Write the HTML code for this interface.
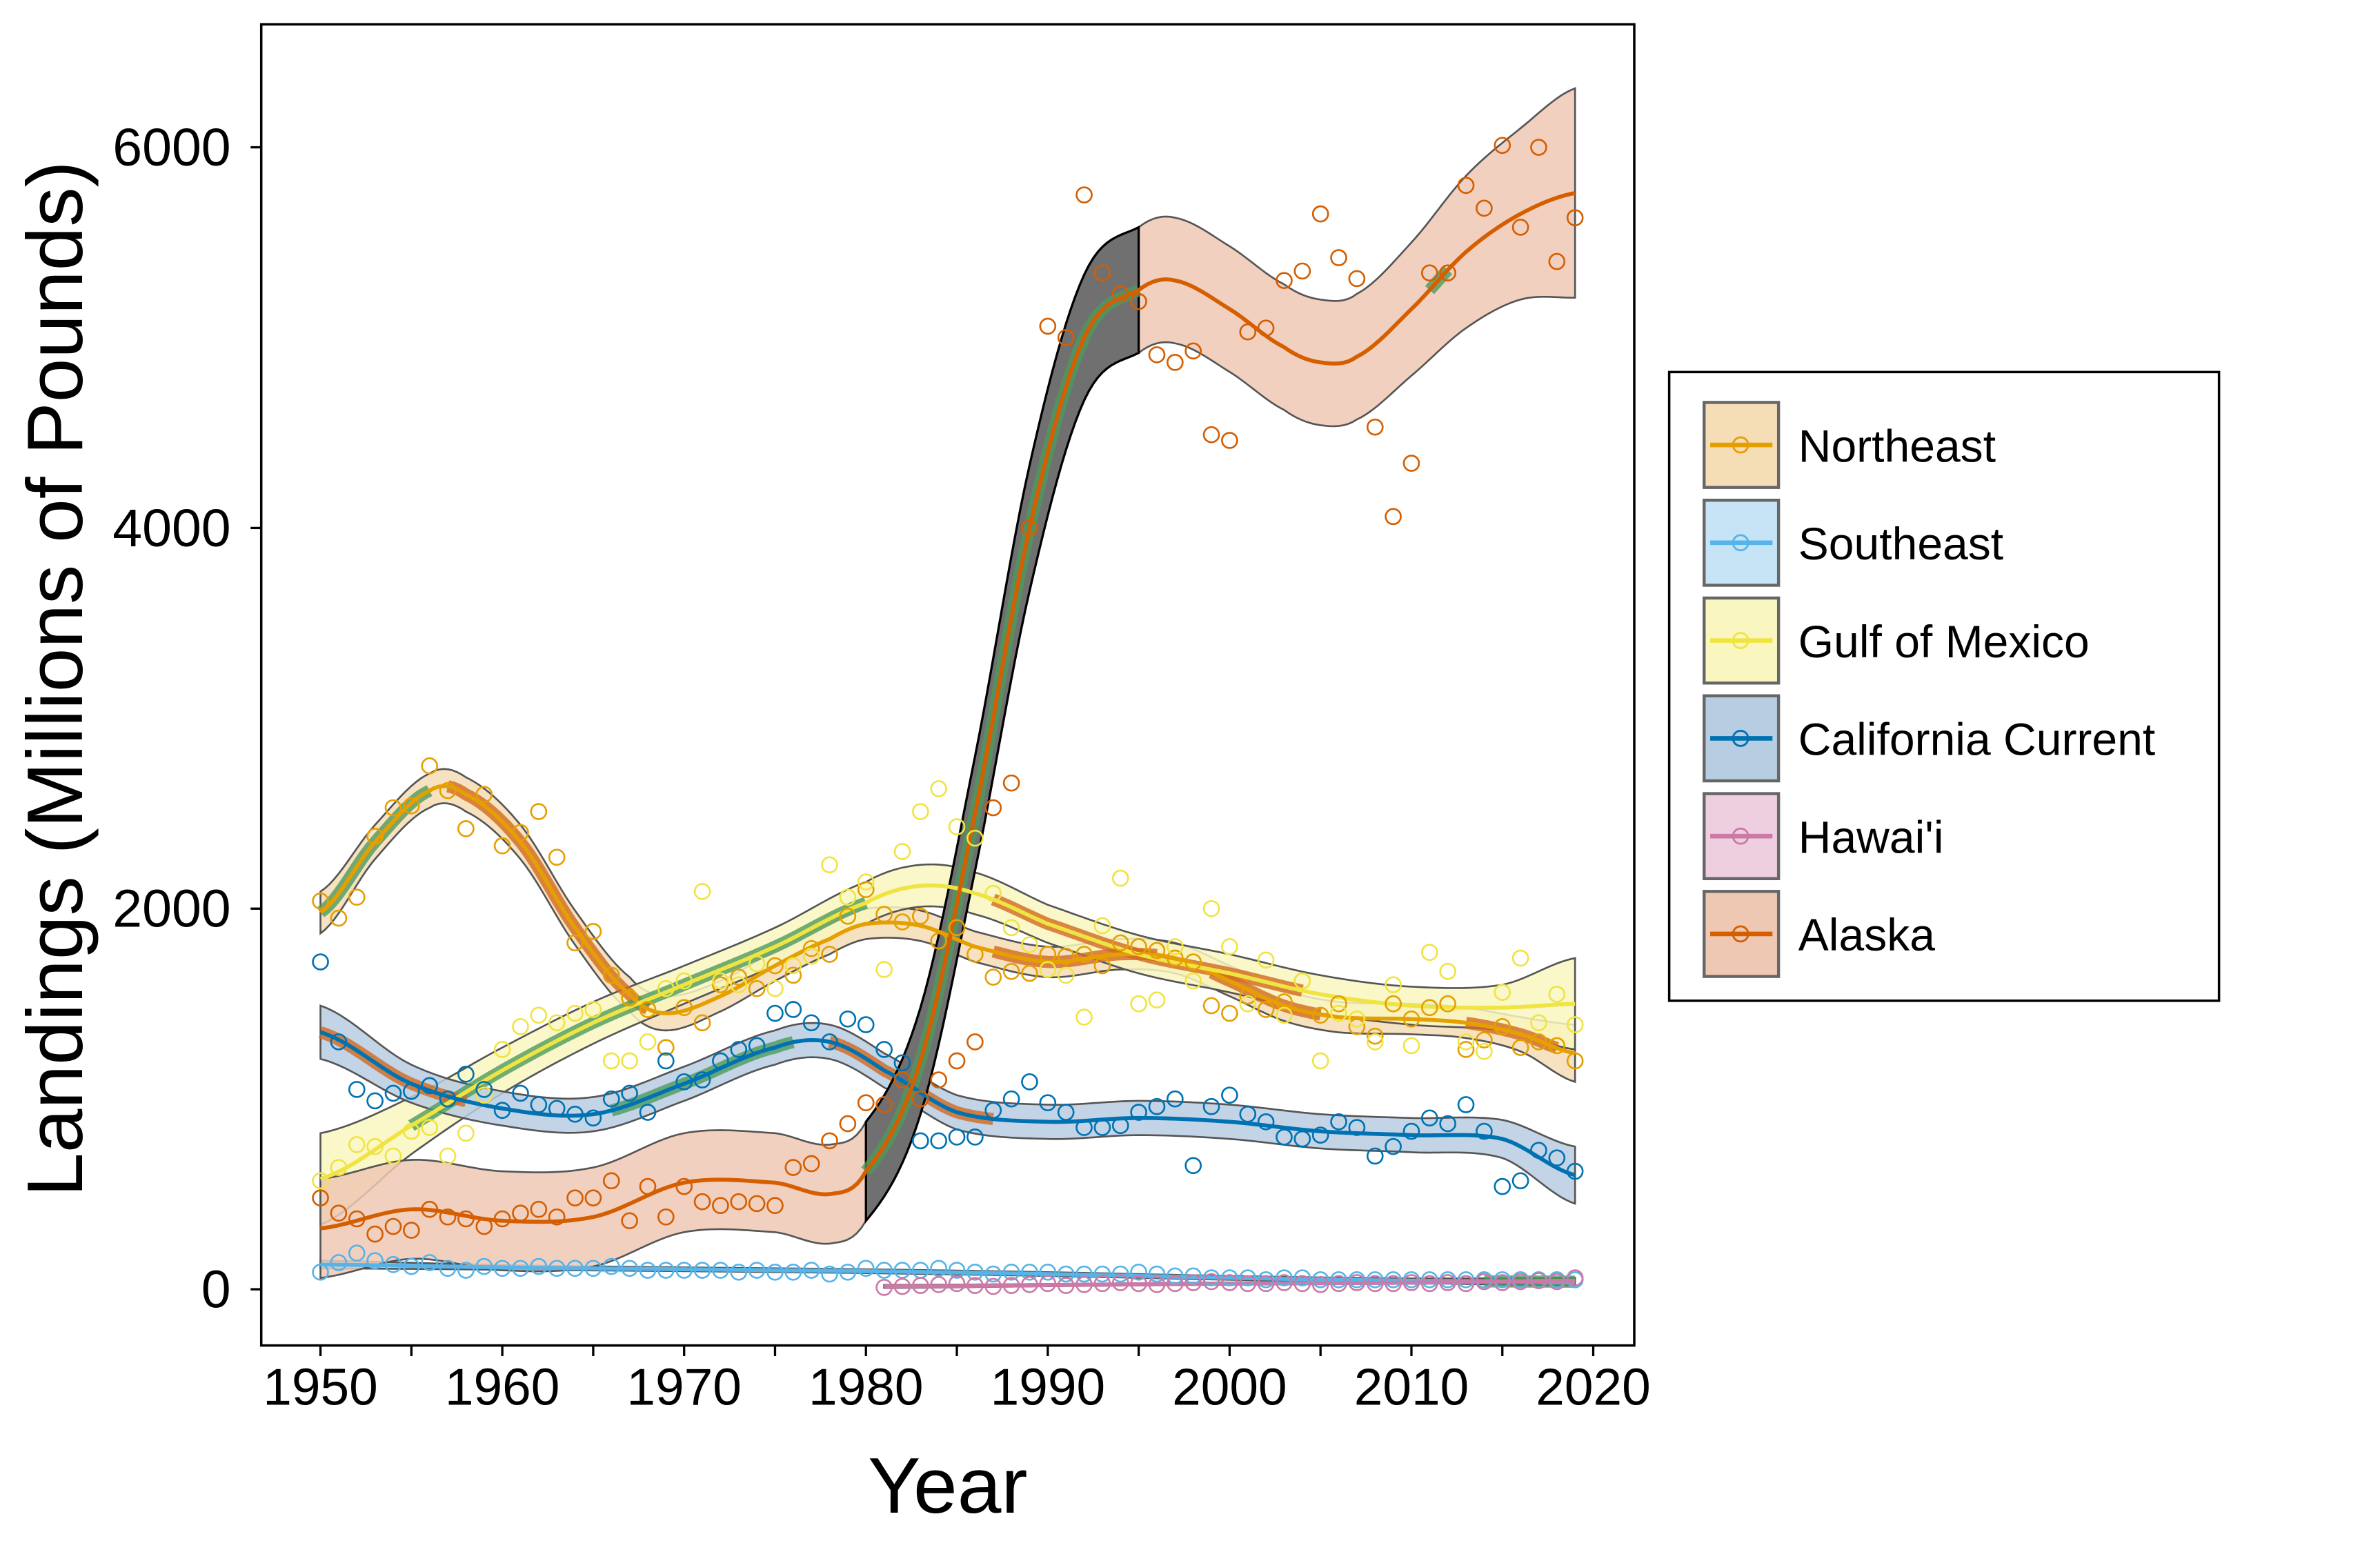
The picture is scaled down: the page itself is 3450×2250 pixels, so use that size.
<!DOCTYPE html>
<html><head><meta charset="utf-8"><style>
html,body{margin:0;padding:0;background:#fff}
svg{display:block;font-family:"Liberation Sans",Arial,sans-serif}
</style></head><body>
<svg id="chart" width="3450" height="2250" viewBox="0 0 1567 1022" preserveAspectRatio="none" xmlns="http://www.w3.org/2000/svg">
<rect width="1567" height="1022" fill="#fff"/>
<g id="bands"></g><g id="hl"></g><g id="lines"></g><g id="pts"></g>
<rect x="172" y="16" width="904" height="870" fill="none" stroke="#000" stroke-width="1.6"/>
<g id="axes"></g>
<text transform="translate(54,447) rotate(-90)" text-anchor="middle" font-size="52">Landings (Millions of Pounds)</text>
<text x="624" y="996" text-anchor="middle" font-size="52">Year</text>
<g id="legend"></g>
</svg>
<script>
const years=[];for(let y=1950;y<=2019;y++)years.push(y);
const names=["Northeast","Southeast","Gulf of Mexico","California Current","Hawai'i","Alaska"];
const colors=["#E69F00","#56B4E9","#F0E442","#0072B2","#CC79A7","#D55E00"];
const fills=["#F5DDB5","#C6E4F6","#F9F6BF","#B7CDE2","#EDCFE0","#EFC8B4"];
const neVals=[2040,1950,2060,2380,2530,2540,2750,2620,2420,2600,2330,2400,2510,2270,1820,1880,1650,1530,1470,1270,1480,1400,1600,1640,1580,1700,1650,1790,1760,1960,2100,1970,1930,1960,1830,1900,1760,1640,1670,1660,1760,1750,1760,1700,1820,1800,1780,1740,1720,1490,1450,1540,1470,1510,1620,1440,1500,1380,1330,1500,1420,1480,1500,1260,1310,1380,1270,1300,1280,1200];
const seVals=[90,140,190,150,130,120,140,110,100,120,110,110,120,110,110,110,120,110,100,100,100,100,100,90,100,90,90,100,80,90,110,100,100,100,110,100,90,80,90,90,90,80,80,80,80,90,80,70,70,60,60,60,50,60,60,50,50,50,50,50,50,50,50,50,50,50,50,50,50,50];
const gmVals=[570,640,760,750,700,830,850,700,820,1020,1260,1380,1440,1400,1450,1470,1200,1200,1300,1580,1620,2090,1620,1600,1710,1580,1700,1750,2230,2060,2140,1680,2300,2510,2630,2430,2370,2080,1900,1810,1680,1650,1430,1910,2160,1500,1520,1800,1620,2000,1800,1500,1730,1440,1620,1200,1450,1420,1300,1600,1280,1770,1670,1300,1250,1560,1740,1400,1550,1390];
const ccVals=[1720,1300,1050,990,1030,1040,1070,1000,1130,1050,940,1030,970,950,920,900,1000,1030,930,1200,1090,1100,1200,1260,1280,1450,1470,1400,1300,1420,1390,1260,1190,780,780,800,800,940,1000,1090,980,930,850,850,860,930,960,1000,650,960,1020,920,880,800,790,810,880,850,700,750,830,900,870,970,830,540,570,730,690,620];
const hiYears=[];for(let y=1981;y<=2019;y++)hiYears.push(y);
const hiVals=[10,15,20,25,30,20,15,20,25,30,20,25,30,35,30,25,30,35,40,35,30,30,35,30,25,30,35,30,30,35,30,35,30,40,35,40,45,40,60];
const akVals=[480,400,370,290,330,310,420,380,370,330,370,400,420,380,480,480,570,360,540,380,540,460,440,460,450,440,640,660,780,870,980,970,1100,1000,1100,1200,1300,2530,2660,4000,5060,5000,5750,5340,5230,5190,4910,4870,4930,4490,4460,5030,5050,5300,5350,5650,5420,5310,4530,4060,4340,5340,5340,5800,5680,6010,5580,6000,5400,5630];
const neKY=[1950,1953,1956,1958,1961,1964,1967,1969,1972,1975,1978,1980,1983,1986,1990,1994,1997,2000,2003,2006,2010,2013,2016,2019];
const neFit=[1980,2350,2620,2600,2350,1900,1550,1450,1540,1700,1840,1920,1910,1800,1720,1760,1740,1620,1490,1430,1420,1400,1340,1240];
const neSE=[110,90,90,90,90,90,90,90,80,80,80,80,80,80,80,80,80,80,80,80,80,80,90,150];
const seKY=[1950,1960,1970,1980,1990,2000,2010,2019];
const seFit=[130,115,105,95,80,60,45,40];
const seSE=[20,12,10,10,10,10,12,20];
const gmKY=[1950,1955,1960,1965,1970,1975,1980,1983,1986,1990,1995,2000,2005,2010,2015,2019];
const gmFit=[580,860,1150,1400,1600,1800,2030,2120,2080,1920,1760,1660,1550,1490,1480,1500];
const gmSE=[240,150,120,110,100,100,110,110,110,100,100,100,100,100,120,240];
const ccKY=[1950,1955,1960,1965,1970,1975,1978,1981,1985,1990,1995,2000,2005,2010,2015,2019];
const ccFit=[1350,1080,950,920,1080,1270,1300,1150,930,880,900,880,830,810,790,600];
const ccSE=[140,100,90,90,90,90,90,90,90,90,90,90,90,90,100,150];
const hiKY=[1981,1990,2000,2010,2019];
const hiFit=[15,22,30,35,45];
const hiSE=[8,6,6,6,10];
const akKY=[1950,1955,1960,1965,1970,1975,1978,1980,1983,1986,1989,1992,1995,1997,2000,2003,2005,2007,2010,2013,2016,2019];
const akFit=[320,420,360,380,560,560,500,620,1200,2500,4000,5000,5250,5300,5150,4950,4870,4900,5150,5450,5650,5760];
const akSE=[260,260,260,260,260,260,260,260,280,300,330,330,330,330,330,330,330,330,350,400,450,550];
const segSeries=[0,0,0,0,2,2,3,3,3,5,5,0,1];
const segStart=[1950,1957,1987,1999,1955,1987,1950,1966,1978,1980,2011,2013,2014];
const segEnd=[1956,1968,1996,2005,1980,2004,1958,1976,1987,1995,2012,2018,2019];
const segDir=[1,-1,-1,-1,1,-1,-1,1,-1,1,1,-1,1];

const X=y=>211+(y-1950)*(1049-211)/70;
const Y=v=>849-v*(849-97)/6000;
const NS="http://www.w3.org/2000/svg";
function mk(t,a,p){const e=document.createElementNS(NS,t);for(const k in a)e.setAttribute(k,a[k]);p.appendChild(e);return e;}
function interp(ky,kv,y){let i=0;while(i<ky.length-2&&y>ky[i+1])i++;
 const p0=kv[Math.max(i-1,0)],p1=kv[i],p2=kv[i+1],p3=kv[Math.min(i+2,kv.length-1)];
 const t=(y-ky[i])/(ky[i+1]-ky[i]);
 return 0.5*((2*p1)+(-p0+p2)*t+(2*p0-5*p1+4*p2-p3)*t*t+(-p0+3*p1-3*p2+p3)*t*t*t);}
const series=[
 {py:years,pv:neVals,ky:neKY,kf:neFit,ks:neSE},
 {py:years,pv:seVals,ky:seKY,kf:seFit,ks:seSE},
 {py:years,pv:gmVals,ky:gmKY,kf:gmFit,ks:gmSE},
 {py:years,pv:ccVals,ky:ccKY,kf:ccFit,ks:ccSE},
 {py:hiYears,pv:hiVals,ky:hiKY,kf:hiFit,ks:hiSE},
 {py:years,pv:akVals,ky:akKY,kf:akFit,ks:akSE}];
const slug=["northeast","southeast","gulf","california","hawaii","alaska"];
const gB=document.getElementById('bands'),gL=document.getElementById('lines'),gP=document.getElementById('pts'),gH=document.getElementById('hl');
function samp(s,a,b){const out=[];for(let y=a;y<=b+1e-9;y+=0.25)out.push(y);return out;}
series.forEach((s,i)=>{
 const a=s.ky[0],b=s.ky[s.ky.length-1],ys=samp(s,a,b);
 const up=ys.map(y=>[X(y),Y(interp(s.ky,s.kf,y)+interp(s.ky,s.ks,y))]);
 const lo=ys.map(y=>[X(y),Y(interp(s.ky,s.kf,y)-interp(s.ky,s.ks,y))]).reverse();
 const band=mk('path',{d:'M'+up.concat(lo).map(p=>p.join(',')).join('L')+'Z',fill:fills[i],'fill-opacity':0.85,stroke:'#555','stroke-width':1.2},gB);
 
 
 const ln=mk('path',{d:'M'+ys.map(y=>X(y)+','+Y(interp(s.ky,s.kf,y))).join('L'),fill:'none',stroke:colors[i],'stroke-width':2.6},gL);
 
 
 s.py.forEach((y,j)=>{const c=mk('circle',{cx:X(y),cy:Y(s.pv[j]),r:5,fill:'none',stroke:colors[i],'stroke-width':1.2},gP);
  
  });
});
segSeries.forEach((si,k)=>{const s=series[si],ys=samp(s,segStart[k],segEnd[k]);
 if(si==5&&segDir[k]==1&&segEnd[k]-segStart[k]>5){
  const up=ys.map(y=>[X(y),Y(interp(s.ky,s.kf,y)+interp(s.ky,s.ks,y))]);
  const lo=ys.map(y=>[X(y),Y(interp(s.ky,s.kf,y)-interp(s.ky,s.ks,y))]).reverse();
  const g=mk('path',{d:'M'+up.concat(lo).map(p=>p.join(',')).join('L')+'Z',fill:'#707070',stroke:'#000','stroke-width':1.5},gH);
  
  }
 const p=mk('path',{d:'M'+ys.map(y=>X(y)+','+Y(interp(s.ky,s.kf,y))).join('L'),fill:'none',stroke:segDir[k]>0?'#4E9A5C':'#D2691E','stroke-width':8,'stroke-opacity':0.8},gH);
 
 
});
const gA=document.getElementById('axes');
const yTicks=[0,2000,4000,6000];
yTicks.forEach(v=>{mk('line',{x1:165,x2:172,y1:Y(v),y2:Y(v),stroke:'#000','stroke-width':1.5},gA);
 const t=mk('text',{x:152,y:Y(v)+12,'text-anchor':'end','font-size':35},gA);t.textContent=v;
 
 });
const xTicks=[1950,1960,1970,1980,1990,2000,2010,2020];
for(let y=1950;y<=2020;y+=5)mk('line',{x1:X(y),x2:X(y),y1:886,y2:893,stroke:'#000','stroke-width':1.5},gA);
xTicks.forEach(y=>{const t=mk('text',{x:X(y),y:925,'text-anchor':'middle','font-size':34},gA);t.textContent=y;
 
 });
const gG=document.getElementById('legend');
mk('rect',{x:1099,y:245,width:362,height:414,fill:'#fff',stroke:'#000','stroke-width':1.6},gG);
names.forEach((n,i)=>{const cy=293+i*64.4;
 const r=mk('rect',{x:1122,y:cy-28,width:49,height:56,fill:fills[i],stroke:'#666','stroke-width':2},gG);
 
 
 mk('line',{x1:1126,x2:1167,y1:cy,y2:cy,stroke:colors[i],'stroke-width':3},gG);
 mk('circle',{cx:1146,cy:cy,r:5,fill:'none',stroke:colors[i],'stroke-width':1.3},gG);
 const t=mk('text',{x:1184,y:cy+11,'font-size':30},gG);t.textContent=n;
 
 });
</script>
</body></html>
